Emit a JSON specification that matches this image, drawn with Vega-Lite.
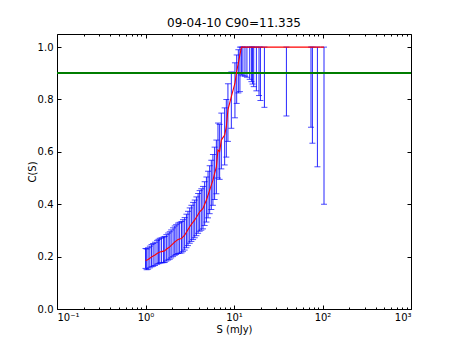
{
  "$schema": "https://vega.github.io/schema/vega-lite/v6.json",
  "width": 354,
  "height": 275,
  "autosize": "none",
  "padding": {"left": 57, "top": 34, "right": 46, "bottom": 34},
  "title": {"text": "09-04-10 C90=11.335", "font": "DejaVu Sans", "fontSize": 12, "fontWeight": "normal", "color": "black", "offset": 4},
  "config": {
    "view": {"stroke": "black", "strokeWidth": 1},
    "font": "DejaVu Sans",
    "axis": {"labelFont": "DejaVu Sans", "labelFontSize": 10, "labelColor": "black", "titleFont": "DejaVu Sans", "titleFontSize": 10, "titleFontWeight": "normal", "titleColor": "black", "tickColor": "black", "domain": false, "grid": false}
  },
  "data": {"values": [
    {"x":1.00,"y":0.186,"lo":0.155,"hi":0.231},
    {"x":1.03,"y":0.186,"lo":0.150,"hi":0.229},
    {"x":1.07,"y":0.189,"lo":0.152,"hi":0.234},
    {"x":1.12,"y":0.194,"lo":0.157,"hi":0.240},
    {"x":1.17,"y":0.199,"lo":0.161,"hi":0.246},
    {"x":1.22,"y":0.202,"lo":0.163,"hi":0.250},
    {"x":1.28,"y":0.206,"lo":0.166,"hi":0.255},
    {"x":1.35,"y":0.212,"lo":0.171,"hi":0.262},
    {"x":1.40,"y":0.215,"lo":0.173,"hi":0.266},
    {"x":1.45,"y":0.218,"lo":0.176,"hi":0.270},
    {"x":1.52,"y":0.219,"lo":0.176,"hi":0.272},
    {"x":1.60,"y":0.221,"lo":0.177,"hi":0.275},
    {"x":1.65,"y":0.222,"lo":0.178,"hi":0.277},
    {"x":1.72,"y":0.228,"lo":0.183,"hi":0.284},
    {"x":1.80,"y":0.233,"lo":0.187,"hi":0.290},
    {"x":1.88,"y":0.237,"lo":0.190,"hi":0.295},
    {"x":1.95,"y":0.243,"lo":0.195,"hi":0.302},
    {"x":2.05,"y":0.250,"lo":0.200,"hi":0.310},
    {"x":2.14,"y":0.256,"lo":0.205,"hi":0.317},
    {"x":2.22,"y":0.260,"lo":0.208,"hi":0.322},
    {"x":2.33,"y":0.265,"lo":0.212,"hi":0.328},
    {"x":2.43,"y":0.267,"lo":0.213,"hi":0.331},
    {"x":2.55,"y":0.269,"lo":0.214,"hi":0.334},
    {"x":2.65,"y":0.275,"lo":0.219,"hi":0.341},
    {"x":2.77,"y":0.282,"lo":0.225,"hi":0.349},
    {"x":2.90,"y":0.293,"lo":0.234,"hi":0.362},
    {"x":3.02,"y":0.303,"lo":0.242,"hi":0.373},
    {"x":3.16,"y":0.314,"lo":0.251,"hi":0.386},
    {"x":3.30,"y":0.323,"lo":0.258,"hi":0.396},
    {"x":3.45,"y":0.332,"lo":0.265,"hi":0.407},
    {"x":3.60,"y":0.340,"lo":0.272,"hi":0.416},
    {"x":3.76,"y":0.350,"lo":0.280,"hi":0.428},
    {"x":3.93,"y":0.361,"lo":0.289,"hi":0.441},
    {"x":4.09,"y":0.371,"lo":0.297,"hi":0.452},
    {"x":4.27,"y":0.377,"lo":0.301,"hi":0.459},
    {"x":4.46,"y":0.384,"lo":0.306,"hi":0.468},
    {"x":4.66,"y":0.400,"lo":0.319,"hi":0.486},
    {"x":4.88,"y":0.416,"lo":0.332,"hi":0.504},
    {"x":5.09,"y":0.435,"lo":0.348,"hi":0.526},
    {"x":5.31,"y":0.454,"lo":0.364,"hi":0.547},
    {"x":5.54,"y":0.473,"lo":0.380,"hi":0.568},
    {"x":5.78,"y":0.492,"lo":0.396,"hi":0.590},
    {"x":6.04,"y":0.518,"lo":0.418,"hi":0.618},
    {"x":6.32,"y":0.543,"lo":0.440,"hi":0.645},
    {"x":6.59,"y":0.607,"lo":0.500,"hi":0.710},
    {"x":6.88,"y":0.601,"lo":0.495,"hi":0.705},
    {"x":7.19,"y":0.645,"lo":0.535,"hi":0.748},
    {"x":7.84,"y":0.664,"lo":0.550,"hi":0.768},
    {"x":8.19,"y":0.696,"lo":0.580,"hi":0.800},
    {"x":8.54,"y":0.760,"lo":0.640,"hi":0.860},
    {"x":9.33,"y":0.811,"lo":0.690,"hi":0.905},
    {"x":10.25,"y":0.862,"lo":0.730,"hi":0.940},
    {"x":10.72,"y":0.907,"lo":0.785,"hi":0.970},
    {"x":11.20,"y":0.939,"lo":0.825,"hi":0.990},
    {"x":11.67,"y":0.971,"lo":0.830,"hi":1.0},
    {"x":12.13,"y":1.0,"lo":0.894,"hi":1.0},
    {"x":12.6,"y":1.0,"lo":0.890,"hi":1.0},
    {"x":13.3,"y":1.0,"lo":0.889,"hi":1.0},
    {"x":14.0,"y":1.0,"lo":0.885,"hi":1.0},
    {"x":15.05,"y":1.0,"lo":0.877,"hi":1.0},
    {"x":15.73,"y":1.0,"lo":0.868,"hi":1.0},
    {"x":16.2,"y":1.0,"lo":0.859,"hi":1.0},
    {"x":16.7,"y":1.0,"lo":0.849,"hi":1.0},
    {"x":17.9,"y":1.0,"lo":0.833,"hi":1.0},
    {"x":19.17,"y":1.0,"lo":0.815,"hi":1.0},
    {"x":19.88,"y":1.0,"lo":0.796,"hi":1.0},
    {"x":22.06,"y":1.0,"lo":0.770,"hi":1.0},
    {"x":39.1,"y":1.0,"lo":0.737,"hi":1.0},
    {"x":74.1,"y":1.0,"lo":0.694,"hi":1.0},
    {"x":76.9,"y":1.0,"lo":0.633,"hi":1.0},
    {"x":87.6,"y":1.0,"lo":0.543,"hi":1.0},
    {"x":104,"y":1.0,"lo":0.400,"hi":1.0}
  ]},
  "resolve": {"axis": {"x": "independent", "y": "independent"}},
  "layer": [
    {
      "mark": {"type": "rule", "color": "#0000ff", "opacity": 0.85, "strokeWidth": 1},
      "encoding": {
        "x": {"field": "x", "type": "quantitative", "scale": {"type": "log", "domain": [0.1, 1000], "nice": false},
          "axis": {"orient": "bottom", "values": [0.1, 1, 10, 100, 1000], "tickSize": -4, "labelPadding": 7, "title": "S (mJy)", "titlePadding": 2,
            "labelExpr": "datum.value < 0.5 ? '10⁻¹' : datum.value < 5 ? '10⁰' : datum.value < 50 ? '10¹' : datum.value < 500 ? '10²' : '10³'"}},
        "y": {"field": "lo", "type": "quantitative", "scale": {"domain": [0, 1.05], "nice": false},
          "axis": {"orient": "left", "values": [0, 0.2, 0.4, 0.6, 0.8, 1.0], "format": ".1f", "tickSize": -4, "labelPadding": 8, "title": "C(S)", "titlePadding": 0}},
        "y2": {"field": "hi"}
      }
    },
    {
      "mark": {"type": "tick", "orient": "horizontal", "size": 6, "thickness": 1, "color": "#0000ff", "opacity": 0.7},
      "encoding": {
        "x": {"field": "x", "type": "quantitative", "scale": {"type": "log", "domain": [0.1, 1000], "nice": false}, "axis": null},
        "y": {"field": "lo", "type": "quantitative", "scale": {"domain": [0, 1.05], "nice": false}, "axis": null}
      }
    },
    {
      "mark": {"type": "tick", "orient": "horizontal", "size": 6, "thickness": 1, "color": "#0000ff", "opacity": 0.7},
      "encoding": {
        "x": {"field": "x", "type": "quantitative", "scale": {"type": "log", "domain": [0.1, 1000], "nice": false}, "axis": null},
        "y": {"field": "hi", "type": "quantitative", "scale": {"domain": [0, 1.05], "nice": false}, "axis": null}
      }
    },
    {
      "mark": {"type": "rule", "color": "#008000", "strokeWidth": 0.6},
      "encoding": {"y": {"datum": 0.9, "type": "quantitative", "scale": {"domain": [0, 1.05], "nice": false}, "axis": null}}
    },
    {
      "mark": {"type": "line", "color": "#ff0000", "strokeWidth": 1.1},
      "encoding": {
        "x": {"field": "x", "type": "quantitative", "scale": {"type": "log", "domain": [0.1, 1000], "nice": false}, "axis": null},
        "y": {"field": "y", "type": "quantitative", "scale": {"domain": [0, 1.05], "nice": false}, "axis": null}
      }
    },
    {
      "mark": {"type": "point", "opacity": 0},
      "encoding": {
        "x": {"field": "x", "type": "quantitative", "scale": {"type": "log", "domain": [0.1, 1000], "nice": false},
          "axis": {"orient": "bottom", "values": [0.2,0.3,0.4,0.5,0.6,0.7,0.8,0.9,2,3,4,5,6,7,8,9,20,30,40,50,60,70,80,90,200,300,400,500,600,700,800,900], "tickSize": -2, "labels": false, "title": null}},
        "y": {"field": "y", "type": "quantitative", "scale": {"domain": [0, 1.05], "nice": false},
          "axis": {"orient": "right", "values": [0, 0.2, 0.4, 0.6, 0.8, 1.0], "tickSize": -4, "labels": false, "title": null}}
      }
    },
    {
      "mark": {"type": "point", "opacity": 0},
      "encoding": {
        "x": {"field": "x", "type": "quantitative", "scale": {"type": "log", "domain": [0.1, 1000], "nice": false},
          "axis": {"orient": "top", "values": [0.1, 1, 10, 100, 1000], "tickSize": -4, "labels": false, "title": null}}
      }
    },
    {
      "mark": {"type": "point", "opacity": 0},
      "encoding": {
        "x": {"field": "x", "type": "quantitative", "scale": {"type": "log", "domain": [0.1, 1000], "nice": false},
          "axis": {"orient": "top", "values": [0.2,0.3,0.4,0.5,0.6,0.7,0.8,0.9,2,3,4,5,6,7,8,9,20,30,40,50,60,70,80,90,200,300,400,500,600,700,800,900], "tickSize": -2, "labels": false, "title": null}}
      }
    }
  ]
}
